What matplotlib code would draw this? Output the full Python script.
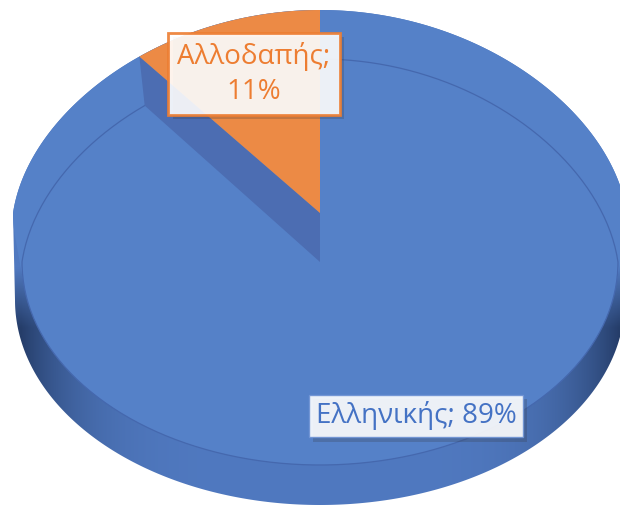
import numpy as np
import matplotlib
matplotlib.use('Agg')
from matplotlib import pyplot as plt
from matplotlib.patches import Polygon
from matplotlib.colors import to_rgb
import matplotlib.patheffects as pe

plt.rcParams['font.family'] = ['Open Sans', 'DejaVu Sans']

labels = ['Ελληνικής', 'Αλλοδαπής']
values = [89, 11]
colors = ['#5581C8', '#EC8A45']
text_colors = ['#4472C4', '#ED7D31']

# pie geometry in pixels: centre, radii, drop of the blue slice, rim depth
cx, cy = 320, 213
rx_top, rx_low, ry = 307, 298, 203
step = 49
rim = 38
persp = 0.1   # far side of the pie is drawn a little narrower

fig = plt.figure(figsize=(6.2, 5.05), dpi=100)
ax = fig.add_axes([0, 0, 1, 1])
ax.set_xlim(0, 620)
ax.set_ylim(505, 0)
ax.axis('off')


def pt(theta, rx, dy=0, k=persp, ryy=ry):
    t = np.radians(theta)
    s = np.sin(t)
    return cx + rx * np.cos(t) * (1 - k * max(s, 0)), cy + dy - ryy * s


def arc(t0, t1, rx, dy=0, k=persp, ryy=ry, n=300):
    return [pt(t, rx, dy, k, ryy) for t in np.linspace(t0, t1, n)]


# slice angles, counter clockwise from 12 o'clock
frac = np.array(values) / sum(values) * 360
a_or = (90, 90 + frac[1])
a_bl = (90 + frac[1], 450)

# outline of the whole pie incl. rim, filled with a shaded gradient
outline = arc(0, 180, rx_top) + arc(180, 360, 305, step + rim, 0, 205)
shape = Polygon(outline, closed=True, fc='none', ec='none')
ax.add_patch(shape)
xs = np.linspace(0, 620, 400)
ys = np.linspace(0, 505, 300)
fx = np.clip(np.abs(xs - cx) / 300, 0, 1) ** 5
gy = np.clip((ys - 268) / 60, 0, 1)
f = gy[:, None] * fx[None, :]
mid = np.array(to_rgb('#5079C0'))
dark = np.array(to_rgb('#253D69'))
grad = mid[None, None, :] * (1 - f[:, :, None]) + dark[None, None, :] * f[:, :, None]
img = ax.imshow(grad, extent=[0, 620, 505, 0], aspect='auto', zorder=1)
img.set_clip_path(shape)

# top face: upper ellipse joined with the lowered blue one
top_pts = np.array(arc(0, 360, rx_top) + arc(0, 360, rx_low, step))


def hull(p):
    p = sorted(map(tuple, p))
    def half(seq):
        h = []
        for q in seq:
            while len(h) >= 2 and (h[-1][0] - h[-2][0]) * (q[1] - h[-2][1]) - (h[-1][1] - h[-2][1]) * (q[0] - h[-2][0]) <= 0:
                h.pop()
            h.append(q)
        return h
    lo = half(p)
    up = half(p[::-1])
    return lo[:-1] + up[:-1]


ax.add_patch(Polygon(hull(top_pts), closed=True, fc=colors[0], ec='none', zorder=2))

# faint edge of the blue slice top
edge = np.array(arc(a_bl[0], a_bl[1], rx_low, step))
ax.plot(edge[:, 0], edge[:, 1], color='#4568AE', lw=0.9, zorder=3)

# cut wall of the blue slice
p1 = pt(a_or[1], rx_top)
p2 = pt(a_or[1], rx_low, step)
ax.add_patch(Polygon([p1, (cx, cy), (cx, cy + step), p2],
                     closed=True, fc='#4C6DB2', ec='none', zorder=3))

# orange slice
wedge = [(cx, cy)] + arc(a_or[0], a_or[1], rx_top, n=60)
ax.add_patch(Polygon(wedge, closed=True, fc=colors[1], ec='none', zorder=4))

# data labels
shadow = [pe.SimplePatchShadow(offset=(3, -3), shadow_rgbFace='#333333', alpha=0.22), pe.Normal()]
t1 = ax.text(254, 74, f'{labels[1]};\n{values[1]}%', ha='center', va='center', fontsize=20,
             color=text_colors[1], linespacing=1.35, zorder=6,
             bbox=dict(boxstyle='square,pad=0.32', fc='#FFFFFF', alpha=0.9, ec=text_colors[1], lw=2))
t2 = ax.text(416, 416, f'{labels[0]}; {values[0]}%', ha='center', va='center', fontsize=20,
             color=text_colors[0], zorder=6,
             bbox=dict(boxstyle='square,pad=0.25', fc='#FFFFFF', alpha=0.9, ec='#6E93D4', lw=1))
for t in (t1, t2):
    t.get_bbox_patch().set_path_effects(shadow)

fig.savefig('out.png', dpi=100)
